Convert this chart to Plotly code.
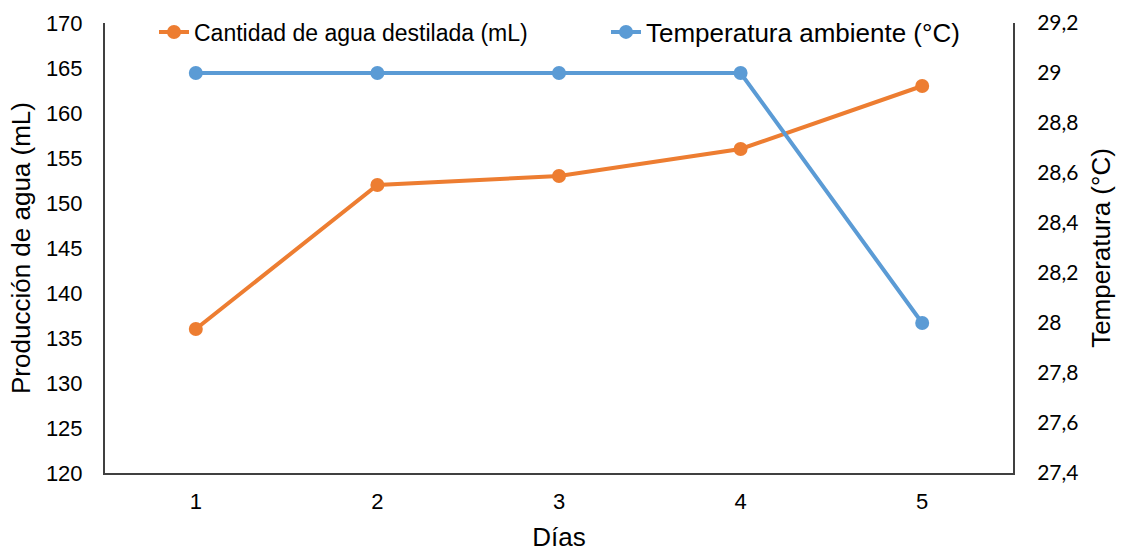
import plotly.graph_objects as go

dias = [1, 2, 3, 4, 5]
agua_ml = [136, 152, 153, 156, 163]
temp_c = [29, 29, 29, 29, 28]

orange = "#ED7D31"
blue = "#5B9BD5"
axis_col = "#404040"

fig = go.Figure()
fig.add_trace(go.Scatter(
    x=dias, y=agua_ml, mode="lines+markers",
    name="Cantidad de agua destilada (mL)",
    line=dict(color=orange, width=4), marker=dict(size=14, color=orange),
    yaxis="y", legend="legend"))
fig.add_trace(go.Scatter(
    x=dias, y=temp_c, mode="lines+markers",
    name="Temperatura ambiente (°C)",
    line=dict(color=blue, width=4), marker=dict(size=14, color=blue),
    yaxis="y2", legend="legend2"))

leg_y = 1 - 32 / 553

fig.update_layout(
    width=1121, height=553,
    margin=dict(l=105, r=108, t=23, b=80, autoexpand=False),
    paper_bgcolor="white", plot_bgcolor="white",
    separators=",.",
    font=dict(family="Liberation Sans, Arial", color="black", size=22),
    showlegend=True,
    legend=dict(x=(154 - 105) / 908, xanchor="left", y=leg_y, yref="container",
                yanchor="middle",
                font=dict(size=23, family="Liberation Sans, Arial"),
                bgcolor="rgba(0,0,0,0)"),
    legend2=dict(x=(606 - 105) / 908, xanchor="left", y=leg_y, yref="container",
                 yanchor="middle",
                 font=dict(size=26, family="Liberation Sans, Arial"),
                 bgcolor="rgba(0,0,0,0)"),
    xaxis=dict(range=[0.5, 5.5], tickvals=dias, ticktext=[str(d) for d in dias],
               showgrid=False, zeroline=False, showline=True, linecolor=axis_col,
               linewidth=2, ticks="", tickfont=dict(size=22), ticklabelstandoff=8,
               automargin=False,
               title=dict(text="Días", font=dict(size=26), standoff=14)),
    yaxis=dict(range=[120, 170], dtick=5, showgrid=False, zeroline=False,
               showline=True, linecolor=axis_col, linewidth=2, ticks="",
               tickfont=dict(size=22), ticklabelstandoff=16, automargin=False,
               title=dict(text="Producción de agua (mL)", font=dict(size=26), standoff=8)),
    yaxis2=dict(range=[27.4, 29.2], dtick=0.2, tick0=27.4, overlaying="y", side="right",
                showgrid=False, zeroline=False, showline=True, linecolor=axis_col,
                linewidth=2, ticks="", tickfont=dict(size=21, family="Lato, Carlito, sans-serif"),
                ticklabelstandoff=18, automargin=False,
                title=dict(text="Temperatura (°C)", font=dict(size=26), standoff=14)),
)

fig.write_html("out.html")
